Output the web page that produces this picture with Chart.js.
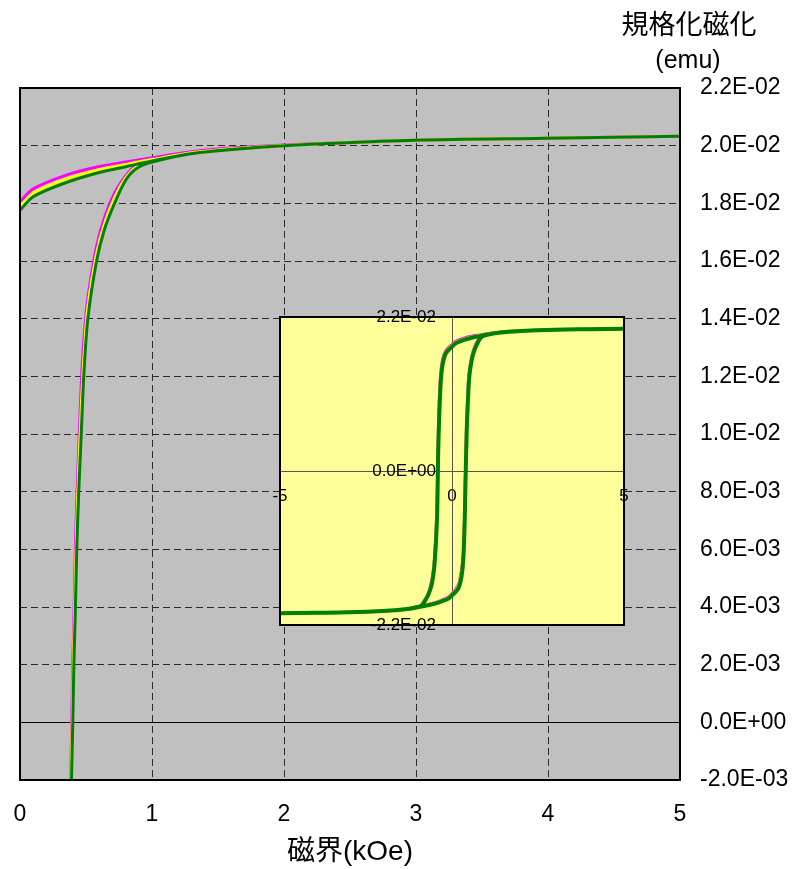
<!DOCTYPE html>
<html>
<head>
<meta charset="utf-8">
<script src="https://cdn.jsdelivr.net/npm/chart.js@4.4.1/dist/chart.umd.min.js"></script>
<style>
  html, body { margin: 0; padding: 0; background: #fff; }
  #wrap { position: relative; width: 797px; height: 869px; }
  #main { position: absolute; left: 0; top: 0; width: 797px; height: 869px; }
  #inset { position: absolute; left: 265px; top: 305px; width: 375px; height: 335px; }
</style>
</head>
<body>
<div id="wrap">
  <div id="main"><canvas id="mainChart"></canvas></div>
  <div id="inset"><canvas id="insetChart"></canvas></div>
</div>
<script>
// Magnetisierungsschleife: Feld in kOe, Moment in Einheiten von 1E-03 emu

// absteigender Ast (+5 -> -5 kOe)
const fieldDown = [5, 4, 3, 2, 1.36, 1, 0.8, 0.6, 0.35, 0.1, 0, -0.1, -0.2, -0.28, -0.33, -0.37, -0.4, -0.41,
  -0.43, -0.45, -0.47, -0.49, -0.52, -0.58, -0.65, -0.72, -0.88, -1, -1.36, -2, -3, -4, -5];
// aufsteigender Ast (-5 -> +5 kOe)
const fieldUp = [-5, -4, -3, -2, -1.36, -1, -0.6, -0.35, -0.1, 0, 0.1, 0.2, 0.28, 0.33, 0.37, 0.39, 0.4, 0.408,
  0.42, 0.43, 0.445, 0.464, 0.483, 0.514, 0.58, 0.64, 0.716, 0.8, 0.88, 1, 1.36, 2, 3, 4, 5];

const greenDown = [20.33, 20.26, 20.19, 20.00, 19.76, 19.47, 19.27, 19.07, 18.72, 18.23, 17.76, 17.3, 16.6, 15.0,
  12.5, 8.0, 3.0, 0.0, -6.0, -8.5, -10.5, -12.0, -14.0, -16.0, -17.2, -18.0, -19.2, -19.43, -19.76, -20.0,
  -20.19, -20.26, -20.33];
const greenUp = [-20.33, -20.26, -20.19, -20.0, -19.76, -19.47, -19.07, -18.72, -18.23, -17.76, -17.3, -16.6,
  -15.0, -12.5, -7.0, -2.0, 0.0, 2.0, 4.0, 6.0, 8.0, 10.0, 12.0, 14.0, 16.0, 17.1, 18.0, 18.8, 19.2, 19.43,
  19.76, 20.0, 20.19, 20.26, 20.33];

const yellowDown = [20.33, 20.26, 20.19, 20.01, 19.79, 19.52, 19.35, 19.17, 18.85, 18.36, 17.9, 17.47, 16.8,
  15.4, 13.2, 9.0, 4.0, 1.2, -4.8, -7.8, -9.9, -11.5, -13.6, -15.7, -17.05, -17.9, -19.15, -19.4, -19.75,
  -20.0, -20.19, -20.26, -20.33];
const yellowUp = [-20.33, -20.26, -20.19, -20.0, -19.74, -19.44, -19.01, -18.63, -18.1, -17.62, -17.1, -16.3,
  -14.5, -12.2, -6.2, -1.3, 1.0, 2.8, 5.0, 6.8, 8.8, 10.9, 12.6, 14.4, 16.25, 17.3, 18.2, 18.88, 19.26, 19.48,
  19.79, 20.01, 20.19, 20.26, 20.33];

const magentaDown = [20.33, 20.26, 20.19, 20.02, 19.82, 19.58, 19.43, 19.28, 18.98, 18.5, 18.05, 17.65, 17.0,
  15.8, 13.8, 10.0, 5.0, 2.5, -3.5, -7.0, -9.3, -11.0, -13.2, -15.4, -16.9, -17.8, -19.1, -19.38, -19.74,
  -20.0, -20.19, -20.26, -20.33];
const magentaUp = [-20.33, -20.26, -20.19, -20.0, -19.72, -19.40, -18.95, -18.55, -18.0, -17.5, -16.95, -16.1,
  -14.0, -11.8, -5.5, -0.6, 2.0, 3.5, 6.0, 7.6, 9.5, 11.7, 13.2, 14.7, 16.5, 17.5, 18.35, 18.95, 19.32, 19.52,
  19.82, 20.02, 20.19, 20.26, 20.33];

// Achsen Hauptdiagramm
const xTicksMain = [0, 1, 2, 3, 4, 5];
const xLabelsMain = ['0', '1', '2', '3', '4', '5'];
const yTicksMain = [-2, 0, 2, 4, 6, 8, 10, 12, 14, 16, 18, 20, 22];
const yLabelsMain = ['-2.0E-03', '0.0E+00', '2.0E-03', '4.0E-03', '6.0E-03', '8.0E-03', '1.0E-02',
  '1.2E-02', '1.4E-02', '1.6E-02', '1.8E-02', '2.0E-02', '2.2E-02'];

// Achsen Einsatz
const xTicksInset = [-5, 0, 5];
const xLabelsInset = ['-5', '0', '5'];
const yTicksInset = [-22, 0, 22];
const yLabelsInset = ['-2.2E-02', '0.0E+00', '2.2E-02'];

const FONT = "'Liberation Sans', Arial, 'Noto Sans CJK JP', sans-serif";
Chart.defaults.font.family = FONT;
Chart.defaults.color = '#000';

function loop(down, up) {
  const pts = fieldDown.map((x, i) => ({ x: x, y: down[i] }));
  return pts.concat(fieldUp.map((x, i) => ({ x: x, y: up[i] })));
}

function makeDatasets(greenWidth) {
  // erster Datensatz wird zuletzt (oben) gezeichnet
  return [
    { label: 'g', data: loop(greenDown, greenUp), borderColor: '#008000', borderWidth: greenWidth },
    { label: 'y', data: loop(yellowDown, yellowUp), borderColor: '#ffff00', borderWidth: 3 },
    { label: 'm', data: loop(magentaDown, magentaUp), borderColor: '#ff00ff', borderWidth: 3 }
  ].map(d => Object.assign(d, { pointRadius: 0, tension: 0.3, fill: false, clip: 0 }));
}

// Randabstände der Achsen ausschalten, damit die Zeichenfläche fest liegt
function noPad(s) {
  s.paddingLeft = 0; s.paddingRight = 0; s.paddingTop = 0; s.paddingBottom = 0;
}

const mainFrame = {
  id: 'mainFrame',
  beforeDraw(chart) {
    const { ctx, chartArea: a } = chart;
    ctx.save();
    ctx.fillStyle = '#c0c0c0';
    ctx.fillRect(a.left, a.top, a.right - a.left, a.bottom - a.top);
    ctx.restore();
  },
  beforeDatasetsDraw(chart) {
    const { ctx, chartArea: a } = chart;
    const y0 = Math.round(chart.scales.y.getPixelForValue(0)) + 0.5;
    ctx.save();
    ctx.strokeStyle = '#000';
    ctx.lineWidth = 1;
    ctx.beginPath();
    ctx.moveTo(a.left, y0);
    ctx.lineTo(a.right, y0);
    ctx.stroke();
    ctx.restore();
  },
  afterDraw(chart) {
    const { ctx, chartArea: a } = chart;
    ctx.save();
    ctx.strokeStyle = '#000';
    ctx.lineWidth = 2;
    ctx.strokeRect(a.left, a.top, a.right - a.left, a.bottom - a.top);
    ctx.fillStyle = '#000';
    ctx.textAlign = 'center';
    ctx.textBaseline = 'middle';
    ctx.font = '27px ' + FONT;
    ctx.fillText('規格化磁化', 689, 27);
    ctx.font = '25px ' + FONT;
    ctx.fillText('(emu)', 688, 61);
    ctx.font = '28px ' + FONT;
    ctx.fillText('磁界(kOe)', 350, 852);
    ctx.restore();
  }
};

const insetFrame = {
  id: 'insetFrame',
  beforeDraw(chart) {
    const { ctx, chartArea: a } = chart;
    ctx.save();
    ctx.fillStyle = '#ffff99';
    ctx.fillRect(a.left, a.top, a.right - a.left, a.bottom - a.top);
    ctx.restore();
  },
  afterDraw(chart) {
    const { ctx, chartArea: a } = chart;
    const xs = chart.scales.x, ys = chart.scales.y;
    ctx.save();
    ctx.strokeStyle = '#000';
    ctx.lineWidth = 2;
    ctx.strokeRect(a.left, a.top, a.right - a.left, a.bottom - a.top);
    // y-Beschriftung links neben der Nullachse
    ctx.fillStyle = '#000';
    ctx.font = '17px ' + FONT;
    ctx.textAlign = 'right';
    ctx.textBaseline = 'middle';
    const xAxis = xs.getPixelForValue(0) - 16;
    yTicksInset.forEach((v, i) => ctx.fillText(yLabelsInset[i], xAxis, ys.getPixelForValue(v)));
    ctx.restore();
  }
};

new Chart(document.getElementById('mainChart'), {
  type: 'line',
  data: { datasets: makeDatasets(3) },
  options: {
    responsive: true,
    maintainAspectRatio: false,
    animation: false,
    layout: { padding: { left: 20, top: 88, right: 0, bottom: 0 } },
    plugins: { legend: { display: false }, tooltip: { enabled: false } },
    scales: {
      x: {
        type: 'linear', min: 0, max: 5, position: 'bottom',
        afterBuildTicks: s => { s.ticks = xTicksMain.map(v => ({ value: v })); },
        afterFit: s => { s.height = 89; noPad(s); },
        grid: { color: '#2a2a2a', lineWidth: 1, drawTicks: false },
        border: { display: false, dash: [7, 4] },
        ticks: { padding: 21, font: { size: 23 }, maxRotation: 0, autoSkip: false,
          callback: (v, i) => xLabelsMain[i] }
      },
      y: {
        type: 'linear', min: -2, max: 22, position: 'right',
        afterBuildTicks: s => { s.ticks = yTicksMain.map(v => ({ value: v })); },
        afterFit: s => { s.width = 117; noPad(s); },
        grid: { color: '#2a2a2a', lineWidth: 1, drawTicks: false },
        border: { display: false, dash: [7, 4] },
        ticks: { padding: 20, font: { size: 23 }, autoSkip: false,
          callback: (v, i) => yLabelsMain[i] }
      }
    }
  },
  plugins: [mainFrame]
});

new Chart(document.getElementById('insetChart'), {
  type: 'line',
  data: { datasets: makeDatasets(4) },
  options: {
    responsive: true,
    maintainAspectRatio: false,
    animation: false,
    layout: { padding: { left: 15, top: 12, right: 16, bottom: 15 } },
    plugins: { legend: { display: false }, tooltip: { enabled: false } },
    scales: {
      x: {
        type: 'linear', min: -5, max: 5, position: { y: 0 },
        afterBuildTicks: s => { s.ticks = xTicksInset.map(v => ({ value: v })); },
        afterFit: noPad,
        grid: { display: false, drawTicks: false },
        border: { display: true, color: '#555', width: 1 },
        ticks: { padding: 15, font: { size: 17 }, maxRotation: 0, autoSkip: false,
          callback: (v, i) => xLabelsInset[i] }
      },
      y: {
        type: 'linear', min: -22, max: 22, position: { x: 0 },
        afterBuildTicks: s => { s.ticks = yTicksInset.map(v => ({ value: v })); },
        afterFit: noPad,
        grid: { display: false, drawTicks: false },
        border: { display: true, color: '#555', width: 1 },
        ticks: { display: false }
      }
    }
  },
  plugins: [insetFrame]
});
</script>
</body>
</html>
